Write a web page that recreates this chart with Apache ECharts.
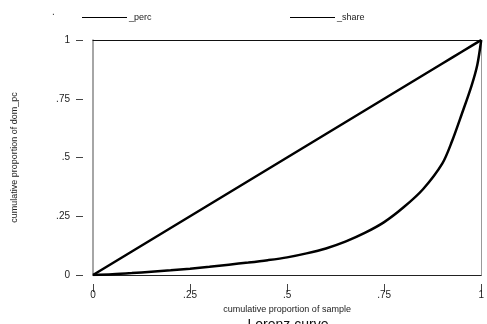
<!DOCTYPE html>
<html><head><meta charset="utf-8">
<script src="https://cdn.jsdelivr.net/npm/echarts@6/dist/echarts.min.js"></script>
<style>html,body{margin:0;padding:0;background:#fff;}#c{width:487px;height:324px;}</style>
</head><body><div id="c"></div>
<script>
const sampleShare = [0, 0.05, 0.1, 0.15, 0.2, 0.25, 0.3, 0.35, 0.4, 0.45, 0.5, 0.55, 0.6, 0.65, 0.7, 0.75, 0.8, 0.85, 0.9, 0.925, 0.95, 0.975, 0.99, 1];
const percValues = [0, 0.05, 0.1, 0.15, 0.2, 0.25, 0.3, 0.35, 0.4, 0.45, 0.5, 0.55, 0.6, 0.65, 0.7, 0.75, 0.8, 0.85, 0.9, 0.925, 0.95, 0.975, 0.99, 1];
const shareValues = [0, 0.003, 0.008, 0.014, 0.02, 0.027, 0.035, 0.044, 0.053, 0.063, 0.075, 0.092, 0.113, 0.142, 0.179, 0.225, 0.288, 0.365, 0.475, 0.57, 0.685, 0.805, 0.895, 1];
const tickValues = [0, 0.25, 0.5, 0.75, 1];
const tickLabels = ['0', '.25', '.5', '.75', '1'];
const seriesNames = ['_perc', '_share'];

const fmt = v => { const i = tickValues.findIndex(t => Math.abs(t - v) < 1e-9); return i >= 0 ? tickLabels[i] : ''; };
const font = 'Liberation Sans, Arial, sans-serif';
const legendBase = { top: 13, padding: 0, itemWidth: 45, itemHeight: 1, itemGap: 0, icon: 'rect', itemStyle: { color: '#000' }, textStyle: { fontSize: 9, color: '#222', fontFamily: font, padding: [0, 0, 0, -3] } };
const chart = echarts.init(document.getElementById('c'));
chart.setOption({
  animation: false,
  backgroundColor: '#fff',
  textStyle: { fontFamily: font },
  title: { text: 'Lorenz curve', left: 283, textAlign: 'center', top: 313, textStyle: { fontSize: 14, fontWeight: 'normal', color: '#111', fontFamily: font } },
  graphic: [{ type: 'text', left: 52, top: 7, style: { text: '.', fontSize: 10, fill: '#333', fontFamily: font } }],
  legend: [
    Object.assign({ data: [seriesNames[0]], left: 82 }, legendBase),
    Object.assign({ data: [seriesNames[1]], left: 290 }, legendBase)
  ],
  grid: { left: 93, right: 1, top: 40, bottom: 49 },
  xAxis: [
    { type: 'value', min: 0, max: 1, interval: 0.25, position: 'bottom',
      axisLine: { show: true, onZero: false, lineStyle: { color: '#222', width: 1 } }, axisTick: { show: false }, axisLabel: { show: false }, splitLine: { show: false } },
    { type: 'value', min: 0, max: 1, interval: 0.25, position: 'bottom', offset: 9,
      axisLine: { show: false, onZero: false }, axisTick: { show: true, length: 8, lineStyle: { color: '#444' } },
      axisLabel: { show: true, margin: 6, fontSize: 10, color: '#222', formatter: fmt },
      splitLine: { show: false },
      name: 'cumulative proportion of sample', nameLocation: 'middle', nameGap: 12, nameTextStyle: { fontSize: 9, color: '#222' } },
    { type: 'value', min: 0, max: 1, position: 'top',
      axisLine: { show: true, onZero: false, lineStyle: { color: '#111', width: 1 } }, axisTick: { show: false }, axisLabel: { show: false }, splitLine: { show: false } }
  ],
  yAxis: [
    { type: 'value', min: 0, max: 1, interval: 0.25, position: 'left',
      axisLine: { show: true, onZero: false, lineStyle: { color: '#888', width: 1.5 } }, axisTick: { show: false }, axisLabel: { show: false }, splitLine: { show: false } },
    { type: 'value', min: 0, max: 1, interval: 0.25, position: 'left', offset: 10,
      axisLine: { show: false, onZero: false }, axisTick: { show: true, length: 7, lineStyle: { color: '#444' } },
      axisLabel: { show: true, margin: 13, fontSize: 10, color: '#222', formatter: fmt },
      splitLine: { show: false },
      name: 'cumulative proportion of dom_pc', nameLocation: 'middle', nameGap: 64, nameTextStyle: { fontSize: 9, color: '#222' } },
    { type: 'value', min: 0, max: 1, position: 'right',
      axisLine: { show: true, onZero: false, lineStyle: { color: '#999', width: 1 } }, axisTick: { show: false }, axisLabel: { show: false }, splitLine: { show: false } }
  ],
  series: [
    { name: seriesNames[0], type: 'line', xAxisIndex: 0, yAxisIndex: 0, symbol: 'none', smooth: false,
      lineStyle: { color: '#000', width: 2.5 }, itemStyle: { color: '#000' },
      data: sampleShare.map((x, i) => [x, percValues[i]]) },
    { name: seriesNames[1], type: 'line', xAxisIndex: 0, yAxisIndex: 0, symbol: 'none', smooth: 0.3,
      lineStyle: { color: '#000', width: 2.5 }, itemStyle: { color: '#000' },
      data: sampleShare.map((x, i) => [x, shareValues[i]]) }
  ]
});
</script></body></html>
